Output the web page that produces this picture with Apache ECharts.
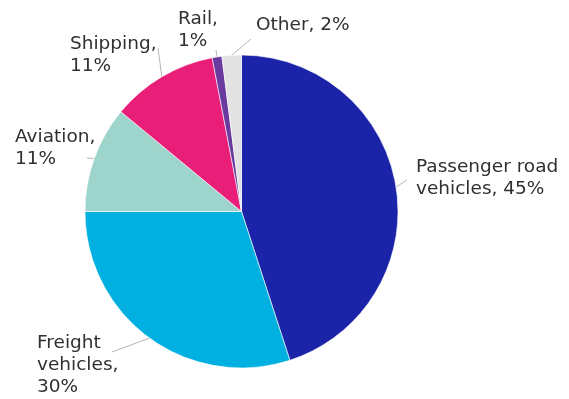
<!DOCTYPE html>
<html>
<head>
<meta charset="utf-8">
<script src="https://cdn.jsdelivr.net/npm/echarts@6/dist/echarts.min.js"></script>
<style>
  html, body { margin: 0; padding: 0; background: #fff; }
  #chart { width: 569px; height: 399px; }
</style>
</head>
<body>
<div id="chart"></div>
<script>
// Transport emissions share by mode (%)
const categories = ['Passenger road vehicles', 'Freight vehicles', 'Aviation', 'Shipping', 'Rail', 'Other'];
const shares = [45, 30, 11, 11, 1, 2];
const labelTexts = [
  'Passenger road\nvehicles, 45%',
  'Freight\nvehicles,\n30%',
  'Aviation,\n11%',
  'Shipping,\n11%',
  'Rail,\n1%',
  'Other, 2%'
];
const colors = ['#1b23a8', '#00b0e1', '#9dd4cb', '#e91e78', '#6a3a9e', '#e2e2e2'];
// label block top-left corners
const labelSpots = [
  [416, 156],
  [37, 332],
  [15, 126],
  [70, 33],
  [178, 8],
  [256, 14]
];
// where each leader line meets its label
const lineEnds = [
  [407, 180],
  [112, 352],
  [87, 158],
  [158, 48],
  [216, 50],
  [251, 39]
];

const chart = echarts.init(document.getElementById('chart'), null, { renderer: 'canvas' });

chart.setOption({
  animation: false,
  color: colors,
  series: [{
    type: 'pie',
    center: [241.5, 211.5],
    radius: [0, 156.5],
    startAngle: 90,
    clockwise: true,
    data: categories.map((name, i) => ({ name, value: shares[i] })),
    itemStyle: { borderColor: '#fff', borderWidth: 0.6 },
    label: {
      show: true,
      position: 'outside',
      formatter: p => labelTexts[p.dataIndex],
      fontFamily: 'DejaVu Sans',
      fontSize: 18.5,
      lineHeight: 22,
      color: '#303030',
      overflow: 'none'
    },
    labelLine: {
      show: true,
      length: 10,
      length2: 10,
      lineStyle: { color: '#b5b5b5', width: 1 }
    },
    labelLayout: params => {
      const i = params.dataIndex;
      const s = labelSpots[i];
      const start = params.labelLinePoints ? params.labelLinePoints[0] : lineEnds[i];
      const end = lineEnds[i];
      return {
        x: s[0], y: s[1], align: 'left', verticalAlign: 'top',
        labelLinePoints: [start, end, end]
      };
    }
  }]
});
</script>
</body>
</html>
